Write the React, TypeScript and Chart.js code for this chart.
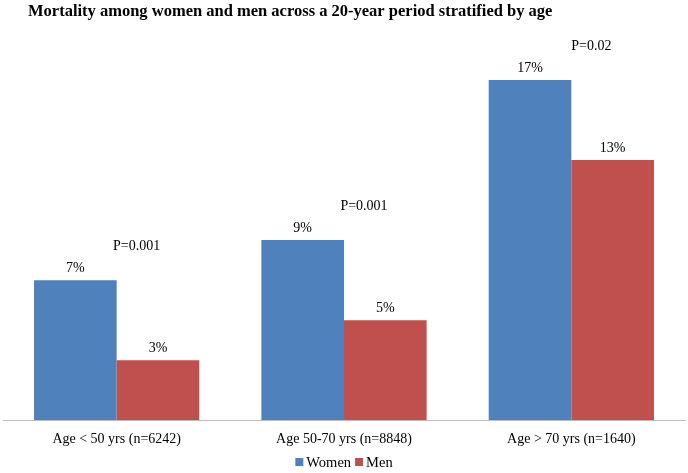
import React, { useEffect, useRef } from "react";
import { Chart, registerables } from "chart.js";

Chart.register(...registerables);

const categories = ["Age < 50 yrs (n=6242)", "Age 50-70 yrs (n=8848)", "Age > 70 yrs (n=1640)"];
const women = [7, 9, 17];
const men = [3, 5, 13];
const pValues = ["P=0.001", "P=0.001", "P=0.02"];
const titleText = "Mortality among women and men across a 20-year period stratified by age";

const SERIF = "'Liberation Serif', 'Times New Roman', serif";

const labelsPlugin = {
  id: "labelsPlugin",
  afterDatasetsDraw(chart: any) {
    const ctx = chart.ctx;
    ctx.save();
    ctx.fillStyle = "#000";
    ctx.font = `14px ${SERIF}`;
    ctx.textAlign = "center";
    ctx.textBaseline = "alphabetic";
    chart.data.datasets.forEach((ds: any, di: number) => {
      const meta = chart.getDatasetMeta(di);
      meta.data.forEach((bar: any, i: number) => {
        ctx.fillText(`${ds.data[i]}%`, bar.x, bar.y - 8);
      });
    });
    const xScale = chart.scales.x;
    const wMeta = chart.getDatasetMeta(0);
    pValues.forEach((p, i) => {
      const cx = xScale.getPixelForValue(i) + 20;
      ctx.fillText(p, cx, wMeta.data[i].y - 30);
    });

    // legend
    ctx.font = `14.5px ${SERIF}`;
    ctx.textBaseline = "middle";
    ctx.textAlign = "left";
    const box = 8;
    const gapText = 3;
    const gapItem = 4;
    const items = chart.data.datasets.map((ds: any) => ({
      label: ds.label,
      color: ds.backgroundColor,
      w: ctx.measureText(ds.label).width,
    }));
    const total = items.reduce((s: number, it: any) => s + box + gapText + it.w, 0) + gapItem * (items.length - 1);
    let x = chart.width / 2 - total / 2;
    const y = 462;
    items.forEach((it: any) => {
      ctx.fillStyle = it.color;
      ctx.fillRect(x, y - box / 2, box, box);
      x += box + gapText;
      ctx.fillStyle = "#000";
      ctx.fillText(it.label, x, y + 1);
      x += it.w + gapItem;
    });

    ctx.font = `bold 16.5px ${SERIF}`;
    ctx.textAlign = "left";
    ctx.textBaseline = "alphabetic";
    ctx.fillText(titleText, 28, 16);
    ctx.restore();
  },
};

export default function App() {
  const ref = useRef<HTMLCanvasElement>(null);
  useEffect(() => {
    document.body.style.margin = "0";
    const chart = new Chart(ref.current!, {
      type: "bar",
      data: {
        labels: categories,
        datasets: [
          { label: "Women", data: women, backgroundColor: "#4F81BD", categoryPercentage: 0.727, barPercentage: 1 },
          { label: "Men", data: men, backgroundColor: "#C0504D", categoryPercentage: 0.727, barPercentage: 1 },
        ],
      },
      options: {
        animation: false,
        responsive: false,
        maintainAspectRatio: false,
        layout: { padding: { left: 3, right: 3, top: 20, bottom: 14 } },
        scales: {
          x: {
            grid: { display: false, drawTicks: false },
            border: { display: true, color: "#BFBFBF", width: 1 },
            ticks: { color: "#000", font: { family: SERIF, size: 14, lineHeight: 1.2 }, padding: 11 },
          },
          y: { display: false, min: 0, max: 20 },
        },
        plugins: {
          legend: { display: false },
          tooltip: { enabled: false },
        },
      },
      plugins: [labelsPlugin],
    });
    return () => chart.destroy();
  }, []);
  return (
    <div style={{ width: 688, height: 473 }}>
      <canvas ref={ref} width={688} height={473} style={{ display: "block" }} />
    </div>
  );
}
